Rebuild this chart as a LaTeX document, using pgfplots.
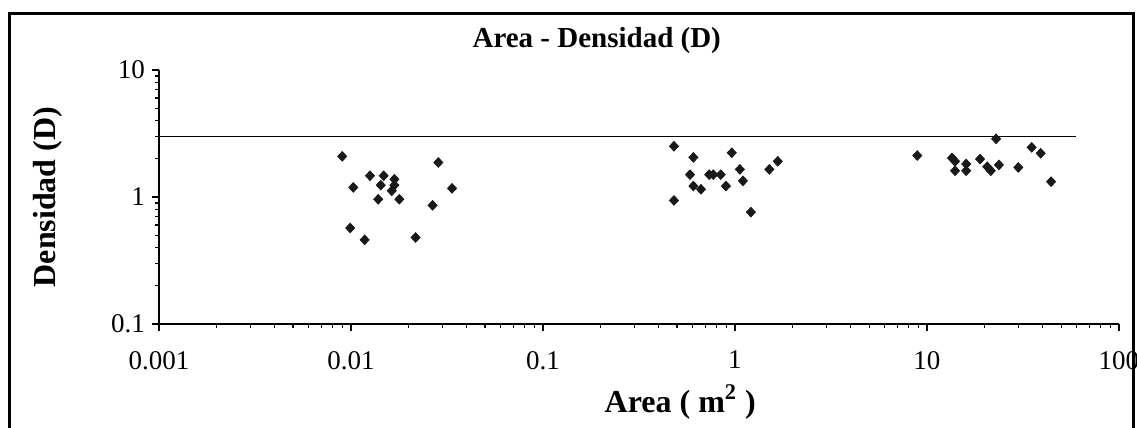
\documentclass[border=0pt]{standalone}
\usepackage{fontspec}
\setmainfont{Liberation Serif}
\usepackage{pgfplots}
\usepackage{pgfplotstable}
\pgfplotsset{compat=1.18}
\pgfplotstableread{
x y
0.0090 2.09
0.0285 1.87
0.01256 1.47
0.0148 1.47
0.01683 1.38
0.01028 1.19
0.01429 1.24
0.01683 1.24
0.0163 1.12
0.0336 1.17
0.01386 0.96
0.01786 0.96
0.0266 0.86
0.0099 0.57
0.01178 0.46
0.0217 0.48
0.481 2.51
0.607 2.05
0.962 2.23
1.67 1.91
1.51 1.65
1.06 1.65
0.583 1.50
0.734 1.50
0.771 1.50
0.843 1.50
1.10 1.34
0.607 1.22
0.665 1.15
0.897 1.22
0.481 0.94
1.21 0.76
22.9 2.87
8.9 2.12
13.5 2.03
14.0 1.91
16.0 1.82
14.0 1.61
16.0 1.61
18.9 1.99
20.6 1.73
21.5 1.61
23.7 1.79
29.9 1.71
35.1 2.46
39.1 2.21
44.3 1.32
}\datatable
\begin{document}
\begin{tikzpicture}
\useasboundingbox (0,0) rectangle (568.5pt,-214pt);
\draw[line width=1.5pt] (4.5pt,-220pt) -- (4.5pt,-6.5pt) -- (566.5pt,-6.5pt) -- (566.5pt,-220pt);
\begin{axis}[
  at={(79.5pt,-162pt)}, anchor=south west,
  width=480pt, height=127pt, scale only axis,
  xmode=log, ymode=log,
  xmin=0.001, xmax=100, ymin=0.1, ymax=10,
  axis x line*=bottom, axis y line*=left,
  axis line style={-, line width=1pt},
  tick align=outside, major tick length=3.5pt, minor tick length=2pt,
  every tick/.style={black, line width=0.7pt},
  xtick={0.001,0.01,0.1,1,10,100},
  xticklabels={0.001,0.01,0.1,1,10,100},
  ytick={0.1,1,10},
  yticklabels={0.1,1,10},
  tick label style={font=\fontsize{13.5}{15}\selectfont},
  xticklabel style={yshift=-6.5pt},
  every axis title shift=0pt,
  title={Area - Densidad (D)},
  title style={font=\bfseries\fontsize{14.5}{17}\selectfont, at={(axis description cs:0.456,1.118)}, anchor=center},
  xlabel={Area ( m\textsuperscript{2} )},
  xlabel style={font=\bfseries\fontsize{16}{19}\selectfont, at={(axis description cs:0.543,-0.307)}, anchor=center},
  ylabel={Densidad (D)},
  ylabel style={font=\bfseries\fontsize{16}{19}\selectfont, at={(axis description cs:-0.1156,0.5)}, anchor=center},
  clip=false,
]
\addplot[black, line width=0.8pt] coordinates {(0.001,3) (60,3)};
\addplot[only marks, mark=diamond*, mark size=2.4pt, mark options={xscale=1.25}, black!90] table[x=x,y=y] {\datatable};
\end{axis}
\end{tikzpicture}
\end{document}
